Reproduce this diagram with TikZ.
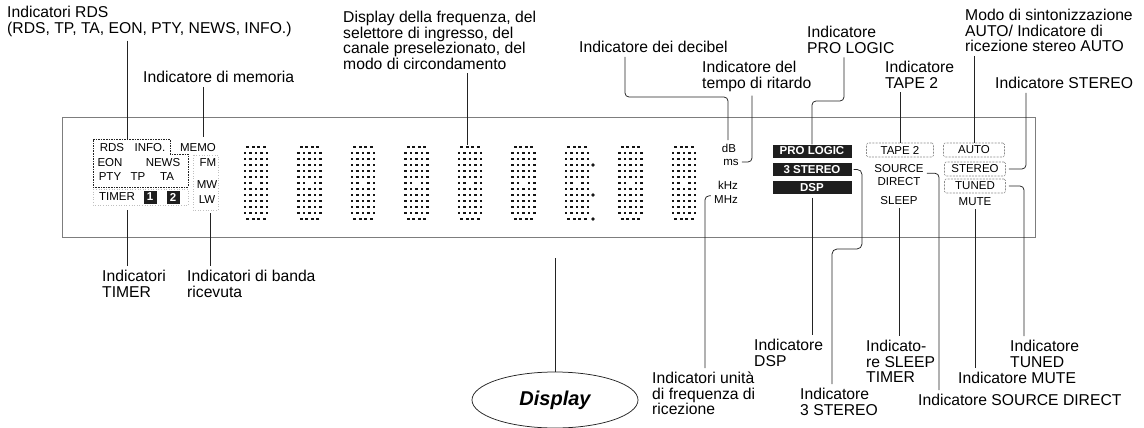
\documentclass[tikz,border=0pt]{standalone}
\usepackage{fontspec}
\setmainfont{Liberation Sans}
\usepackage{xcolor}
\definecolor{LeadGray}{RGB}{35,35,35}
\definecolor{FrameGray}{RGB}{125,125,125}
\definecolor{BoxGray}{RGB}{140,140,140}
\definecolor{PanelDark}{RGB}{30,30,30}
\definecolor{DotBlack}{RGB}{20,20,20}
\usetikzlibrary{positioning, shapes.geometric}

\newcommand{\lblfont}{\fontsize{15.7}{15.5}\selectfont}
\newcommand{\indfont}{\fontsize{11.5}{13}\selectfont}

\tikzset{
  % callout text around the panel
  lbl/.style={font=\lblfont, align=left, inner sep=0pt, anchor=north west},
  % legends printed on the panel
  ind/.style={font=\indfont, inner sep=0pt},
  ind dark/.style={fill=PanelDark, text=white, font=\indfont\bfseries,
    minimum width=79pt, minimum height=13pt, inner sep=0pt},
  ind light/.style={draw=BoxGray, line width=0.6pt, dash pattern=on 2pt off 1.2pt,
    rounded corners=1.5pt, minimum width=61pt, minimum height=14pt,
    inner sep=0pt, font=\indfont},
  ind num/.style={fill=PanelDark, text=white, font=\indfont\bfseries,
    minimum size=13pt, inner sep=0pt},
  % leader lines
  lead/.style={draw=LeadGray, line width=0.75pt, rounded corners=4pt},
  panel/.style={draw=FrameGray, line width=0.8pt},
  rdsframe/.style={draw=LeadGray, line width=0.7pt, dash pattern=on 1.6pt off 1pt},
  faint/.style={draw=black!25, line width=0.6pt, dotted},
  dispell/.style={ellipse, draw=LeadGray, line width=0.75pt,
    minimum width=166pt, minimum height=56pt,
    font=\fontsize{20}{20}\selectfont\bfseries\itshape},
}

\begin{document}
\begin{tikzpicture}[x=1pt, y=-1pt]
  \useasboundingbox (0,0) rectangle (1144,428);

  %% panel frame
  \draw[panel] (62,117) rectangle (1035,237);

  %% RDS / memory / band block
  \draw[rdsframe] (93,139) -- (170,139) -- (170,154) -- (188,154)
    -- (188,187) -- (93,187) -- cycle;
  \draw[faint] (93,189) rectangle (188,205);
  \draw[faint] (193,155) rectangle (218,210);

  \node[ind] (rdsTxt)   at (112,148) {RDS};
  \node[ind] (infoTxt)  at (150,148) {INFO.};
  \node[ind] (memoTxt)  at (198,148) {MEMO};
  \node[ind] (eonTxt)   at (110,163) {EON};
  \node[ind] (newsTxt)  at (163,163) {NEWS};
  \node[ind] (fmTxt)    at (208,163) {FM};
  \node[ind] (ptyTxt)   at (110,177) {PTY};
  \node[ind] (tpTxt)    at (138,177) {TP};
  \node[ind] (taTxt)    at (167,177) {TA};
  \node[ind] (mwTxt)    at (207,185) {MW};
  \node[ind] (timerTxt) at (117,197) {TIMER};
  \node[ind num] (tOne) at (150,197) {1};
  \node[ind num] (tTwo) at (173,197) {2};
  \node[ind] (lwTxt)    at (207,200) {LW};

  %% dot matrix characters
  \foreach \d in {0,...,8}{
    \foreach \r in {1,...,5,7,8,...,11}
      \foreach \c in {0,...,4}
        \fill[DotBlack] ({245+53.5*\d+5.5*\c-1.4},{147+6*\r-1.4}) rectangle +(2.8,2.8);
    \foreach \r in {0,12}
      \foreach \c in {0.5,1.5,2.5,3.5}
        \fill[DotBlack] ({245+53.5*\d+5.5*\c-1.4},{147+6*\r-1.4}) rectangle +(2.8,2.8);
    \foreach \c in {0,1,3,4}
      \fill[DotBlack] ({245+53.5*\d+5.5*\c-1.4},{183-1.4}) rectangle +(2.8,2.8);
  }
  \fill[DotBlack] (593,165) circle (1.8) (593,195) circle (1.8) (593,219) circle (1.8);

  %% units
  \node[ind] (dbTxt)  at (729,148) {dB};
  \node[ind] (msTxt)  at (731,162) {ms};
  \node[ind] (khzTxt) at (728,185) {kHz};
  \node[ind] (mhzTxt) at (726,200) {MHz};

  %% surround / input / tuner legends
  \node[ind dark] (proBox) at (812,151) {PRO LOGIC};
  \node[ind dark, below=5pt of proBox] (st3Box) {3 STEREO};
  \node[ind dark, below=5pt of st3Box] (dspBox) {DSP};

  \node[ind light, minimum width=67pt] (tapeBox) at (900,150) {TAPE 2};
  \node[ind] (srcTxt)   at (899,169) {SOURCE};
  \node[ind] (dirTxt)   at (899,182) {DIRECT};
  \node[ind] (sleepTxt) at (899,201) {SLEEP};

  \node[ind light] (autoBox)   at (974,150) {AUTO};
  \node[ind light] (stereoBox) at (975,169) {STEREO};
  \node[ind light] (tunedBox)  at (975,186) {TUNED};
  \node[ind] (muteTxt) at (975,202) {MUTE};

  %% callouts above
  \node[lbl] (lblRds) at (7,6) {Indicatori RDS\\(RDS, TP, TA, EON, PTY, NEWS, INFO.)};
  \node[lbl] (lblMem) at (143,71) {Indicatore di memoria};
  \node[lbl] (lblFreq) at (343,11) {Display della frequenza, del\\selettore di ingresso, del\\canale preselezionato, del\\modo di circondamento};
  \node[lbl] (lblDb) at (579,41) {Indicatore dei decibel};
  \node[lbl] (lblDelay) at (702,61) {Indicatore del\\tempo di ritardo};
  \node[lbl] (lblPro) at (807,26) {Indicatore\\PRO LOGIC};
  \node[lbl] (lblTape) at (885,61) {Indicatore\\TAPE 2};
  \node[lbl] (lblAuto) at (965,9) {Modo di sintonizzazione\\AUTO/ Indicatore di\\ricezione stereo AUTO};
  \node[lbl] (lblStereo) at (995,77) {Indicatore STEREO};

  %% callouts below
  \node[lbl] (lblTimer) at (102,270) {Indicatori\\TIMER};
  \node[lbl] (lblBand) at (187,270) {Indicatori di banda\\ricevuta};
  \node[lbl] (lblUnit) at (652,372) {Indicatori unità\\di frequenza di\\ricezione};
  \node[lbl] (lblDsp) at (754,339) {Indicatore\\DSP};
  \node[lbl] (lbl3st) at (800,388) {Indicatore\\3 STEREO};
  \node[lbl] (lblSleep) at (866,340) {Indicato-\\re SLEEP\\TIMER};
  \node[lbl] (lblSrc) at (918,394) {Indicatore SOURCE DIRECT};
  \node[lbl] (lblMute) at (958,372) {Indicatore MUTE};
  \node[lbl] (lblTuned) at (1010,340) {Indicatore\\TUNED};

  \node[dispell] (dispEll) at (555,400) {Display};

  %% leader points
  \coordinate (rdsTop)    at (127,139);
  \coordinate (memoTop)   at (203,137);
  \coordinate (freqTop)   at (467,145);
  \coordinate (dbBend)    at (625,97);
  \coordinate (dbTop)     at (728,140);
  \coordinate (delayLeg)  at (752,100);
  \coordinate (proBend)   at (844,101);
  \coordinate (stereoLeg) at (1026,100);
  \coordinate (timerLeg)  at (127,210);
  \coordinate (bandLeg)   at (210,213);
  \coordinate (unitLeg)   at (705,300);
  \coordinate (st3Bend)   at (862,249);
  \coordinate (st3Leg)    at (832,249);
  \coordinate (srcLeg)    at (939,300);
  \coordinate (tunedLeg)  at (1024,300);
  \coordinate (dispTop)   at (555,258);

  %% leaders
  \draw[lead, shorten <=4pt] (lblRds.south -| rdsTop) -- (rdsTop);
  \draw[lead, shorten <=4pt] (lblMem.south -| memoTop) -- (memoTop);
  \draw[lead, shorten <=4pt] (lblFreq.south -| freqTop) -- (freqTop);
  \draw[lead, shorten <=4pt] (lblDb.south -| dbBend) -- (dbBend) -| (dbTop);
  \draw[lead, shorten <=4pt] (lblDelay.south -| delayLeg) |- ([xshift=3pt]msTxt.east);
  \draw[lead, shorten <=4pt] (lblPro.south -| proBend) -- (proBend) -| (proBox.north);
  \draw[lead, shorten <=4pt] (lblTape.south -| tapeBox.north) -- (tapeBox.north);
  \draw[lead, shorten <=4pt] (lblAuto.south -| autoBox.north) -- (autoBox.north);
  \draw[lead, shorten <=4pt] (lblStereo.south -| stereoLeg) |- ([xshift=3pt]stereoBox.east);

  \draw[lead, shorten >=4pt] (timerLeg) -- (lblTimer.north -| timerLeg);
  \draw[lead, shorten >=4pt] (bandLeg) -- (lblBand.north -| bandLeg);
  \draw[lead, shorten >=4pt] ([xshift=-3pt]mhzTxt.north west) -| (lblUnit.north -| unitLeg);
  \draw[lead, shorten <=3pt, shorten >=4pt] (dspBox.south) -- (lblDsp.north -| dspBox.south);
  \draw[lead, rounded corners=5pt, shorten >=4pt] ([xshift=2pt]st3Box.east) -| (st3Bend)
    -- (st3Leg) -- (lbl3st.north -| st3Leg);
  \draw[lead, shorten <=3pt, shorten >=4pt] (sleepTxt.south) -- (lblSleep.north -| sleepTxt.south);
  \draw[lead, shorten >=4pt] ([xshift=3pt]srcTxt.south east) -| (lblSrc.north -| srcLeg);
  \draw[lead, shorten <=3pt, shorten >=4pt] (muteTxt.south) -- (lblMute.north -| muteTxt.south);
  \draw[lead, shorten >=4pt] ([xshift=3pt]tunedBox.east) -| (lblTuned.north -| tunedLeg);
  \draw[lead] (dispTop) -- (dispEll.north);

\end{tikzpicture}
\end{document}
